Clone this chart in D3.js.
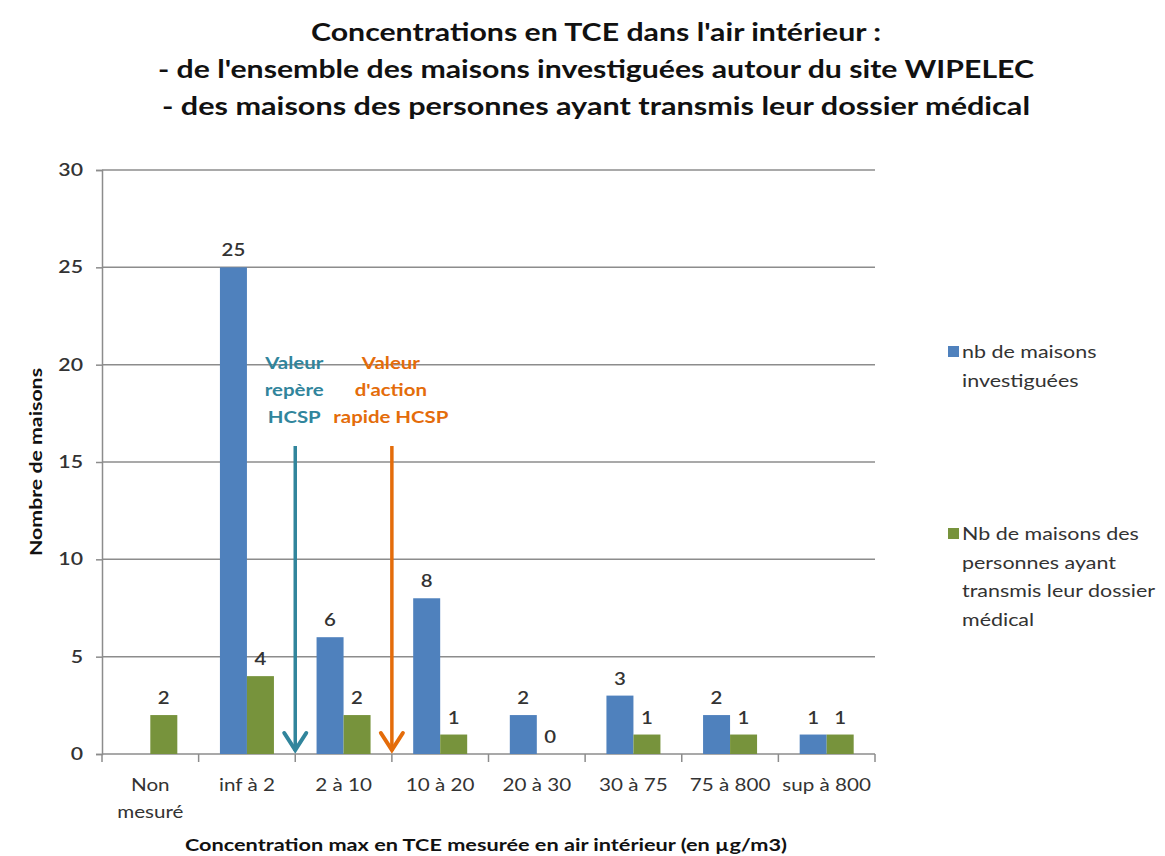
<!DOCTYPE html>
<html>
<head>
<meta charset="utf-8">
<script src="https://cdn.jsdelivr.net/npm/d3@7"></script>
<style>
    body { margin: 0; background: #fff; }
    text { font-family: Lato, "Open Sans", sans-serif; }
</style>
</head>
<body>
<div id="chart"></div>
<script>
var titleLines = [
    "Concentrations en TCE dans l'air intérieur :",
    "- de l'ensemble des maisons investiguées autour du site WIPELEC",
    "- des maisons des personnes ayant transmis leur dossier médical"
];
var categories = ["Non\nmesuré", "inf à 2", "2 à 10", "10 à 20", "20 à 30", "30 à 75", "75 à 800", "sup à 800"];
var investigated = [null, 25, 6, 8, 2, 3, 2, 1];
var withRecord = [2, 4, 2, 1, 0, 1, 1, 1];
var seriesNames = [
    ["nb de maisons", "investiguées"],
    ["Nb de maisons des", "personnes ayant", "transmis leur dossier", "médical"]
];
var yTicks = [0, 5, 10, 15, 20, 25, 30];
// reference values drawn as arrows, placed on category boundaries (index of the boundary)
var markers = [
    { at: 2, label: ["Valeur", "repère", "HCSP"], color: "#31859c" },
    { at: 3, label: ["Valeur", "d'action", "rapide HCSP"], color: "#e46c0a" }
];

var width = 1165, height = 856;
var margin = { left: 102, right: 290, top: 170, bottom: 102 };
var colors = ["#4f81bd", "#77933c"];
var stretchK = 1.25;   // the source picture is widened, text looks wide

// widen text horizontally, like the reference
function Stretch(sel, k) {
    sel.each(function () {
        var len = this.getComputedTextLength();
        d3.select(this)
            .attr("textLength", len * k)
            .attr("lengthAdjust", "spacingAndGlyphs");
    });
}

var svg = d3.select("#chart").append("svg")
    .attr("width", width)
    .attr("height", height);

// Title
var titleWidths = [570, 876, 868];
svg.append("g")
    .selectAll("text")
    .data(titleLines)
    .enter()
    .append("text")
    .attr("x", 596)
    .attr("y", function (d, i) { return 41 + i * 37; })
    .attr("text-anchor", "middle")
    .attr("font-size", 25)
    .attr("font-weight", "bold")
    .attr("fill", "#111")
    .attr("textLength", function (d, i) { return titleWidths[i]; })
    .attr("lengthAdjust", "spacingAndGlyphs")
    .text(function (d) { return d; });

var x = d3.scaleBand()
    .domain(d3.range(categories.length))
    .range([margin.left, width - margin.right]);

var y = d3.scaleLinear()
    .domain([0, 30])
    .range([height - margin.bottom, margin.top]);

var barW = 27;

// Grid lines
svg.append("g")
    .selectAll("line")
    .data(yTicks.slice(1))
    .enter()
    .append("line")
    .attr("x1", margin.left)
    .attr("x2", width - margin.right)
    .attr("y1", function (d) { return y(d); })
    .attr("y2", function (d) { return y(d); })
    .attr("stroke", "#8c8c8c")
    .attr("stroke-width", 1.5);

// Y axis
var yAxis = svg.append("g")
    .attr("transform", "translate(" + margin.left + ",0)")
    .call(d3.axisLeft(y).tickValues(yTicks).tickSize(6).tickPadding(13));
yAxis.select(".domain").attr("stroke", "#8c8c8c").attr("stroke-width", 1.5);
yAxis.selectAll(".tick line").attr("stroke", "#8c8c8c").attr("stroke-width", 1.5);
yAxis.selectAll(".tick text")
    .attr("font-size", 17)
    .attr("font-weight", 600)
    .attr("fill", "#333")
    .attr("font-family", "Lato, sans-serif")
    .call(Stretch, stretchK);

// X axis with ticks on band boundaries
var xAxisG = svg.append("g");
xAxisG.append("line")
    .attr("x1", margin.left)
    .attr("x2", width - margin.right)
    .attr("y1", y(0))
    .attr("y2", y(0))
    .attr("stroke", "#8c8c8c")
    .attr("stroke-width", 1.5);
xAxisG.selectAll("line.tick")
    .data(d3.range(categories.length + 1))
    .enter()
    .append("line")
    .attr("class", "tick")
    .attr("x1", function (i) { return margin.left + i * x.step(); })
    .attr("x2", function (i) { return margin.left + i * x.step(); })
    .attr("y1", y(0))
    .attr("y2", y(0) + 8)
    .attr("stroke", "#8c8c8c")
    .attr("stroke-width", 1.5);

// Category labels, one text per line
var catLines = [];
categories.forEach(function (c, i) {
    c.split("\n").forEach(function (s, j) {
        catLines.push({ s: s, i: i, j: j });
    });
});
xAxisG.selectAll("text.cat")
    .data(catLines)
    .enter()
    .append("text")
    .attr("class", "cat")
    .attr("x", function (d) { return x(d.i) + x.bandwidth() / 2; })
    .attr("y", function (d) { return y(0) + 37 + d.j * 27; })
    .attr("text-anchor", "middle")
    .attr("font-size", 16.5)
    .attr("fill", "#333")
    .text(function (d) { return d.s; })
    .call(Stretch, stretchK);

// Bars
var series = [investigated, withRecord];
series.forEach(function (vals, s) {
    var g = svg.append("g");
    var pts = vals.map(function (v, i) { return { v: v, i: i }; })
        .filter(function (d) { return d.v !== null; });

    g.selectAll("rect")
        .data(pts)
        .enter()
        .append("rect")
        .attr("x", function (d) { return x(d.i) + x.bandwidth() / 2 - barW + s * barW; })
        .attr("width", barW)
        .attr("y", function (d) { return y(d.v); })
        .attr("height", function (d) { return y(0) - y(d.v); })
        .attr("fill", colors[s]);

    g.selectAll("text")
        .data(pts)
        .enter()
        .append("text")
        .attr("x", function (d) { return x(d.i) + x.bandwidth() / 2 - barW / 2 + s * barW; })
        .attr("y", function (d) { return y(d.v) - 11; })
        .attr("text-anchor", "middle")
        .attr("font-size", 17)
        .attr("font-weight", 600)
        .attr("fill", "#333")
        .text(function (d) { return d.v; })
        .call(Stretch, 1.2);
});

// Reference arrows
markers.forEach(function (m) {
    var mx = margin.left + m.at * x.step();
    var g = svg.append("g");
    g.append("line")
        .attr("x1", mx).attr("x2", mx)
        .attr("y1", 446).attr("y2", y(0) - 3)
        .attr("stroke", m.color)
        .attr("stroke-width", 3.5);
    g.append("path")
        .attr("d", "M" + (mx - 11) + "," + (y(0) - 21) + "L" + mx + "," + (y(0) - 4) + "L" + (mx + 11) + "," + (y(0) - 21))
        .attr("fill", "none")
        .attr("stroke", m.color)
        .attr("stroke-width", 4)
        .attr("stroke-linecap", "round");
    g.selectAll("text")
        .data(m.label)
        .enter()
        .append("text")
        .attr("x", mx - 1)
        .attr("y", function (d, i) { return 369 + i * 27; })
        .attr("text-anchor", "middle")
        .attr("font-size", 17)
        .attr("font-weight", "bold")
        .attr("fill", m.color)
        .text(function (d) { return d; })
        .call(Stretch, 1.2);
});

// Legend
var legendY = [352, 534];
seriesNames.forEach(function (lines, s) {
    var g = svg.append("g");
    g.append("rect")
        .attr("x", 948)
        .attr("y", legendY[s] - 6)
        .attr("width", 11)
        .attr("height", 11)
        .attr("fill", colors[s]);
    g.selectAll("text")
        .data(lines)
        .enter()
        .append("text")
        .attr("x", 962)
        .attr("y", function (d, i) { return legendY[s] + 6 + i * 28.5; })
        .attr("font-size", 16.5)
        .attr("fill", "#333")
        .text(function (d) { return d; })
        .call(Stretch, 1.3);
});

// Axis titles
svg.append("text")
    .attr("transform", "translate(42," + (y(15)) + ") rotate(-90)")
    .attr("text-anchor", "middle")
    .attr("font-size", 17)
    .attr("font-weight", "bold")
    .attr("fill", "#111")
    .attr("textLength", 188)
    .attr("lengthAdjust", "spacingAndGlyphs")
    .text("Nombre de maisons");

svg.append("text")
    .attr("x", 486)
    .attr("y", 851)
    .attr("text-anchor", "middle")
    .attr("font-size", 17)
    .attr("font-weight", "bold")
    .attr("fill", "#111")
    .attr("textLength", 602)
    .attr("lengthAdjust", "spacingAndGlyphs")
    .text("Concentration max en TCE mesurée en air intérieur (en µg/m3)");
</script>
</body>
</html>
